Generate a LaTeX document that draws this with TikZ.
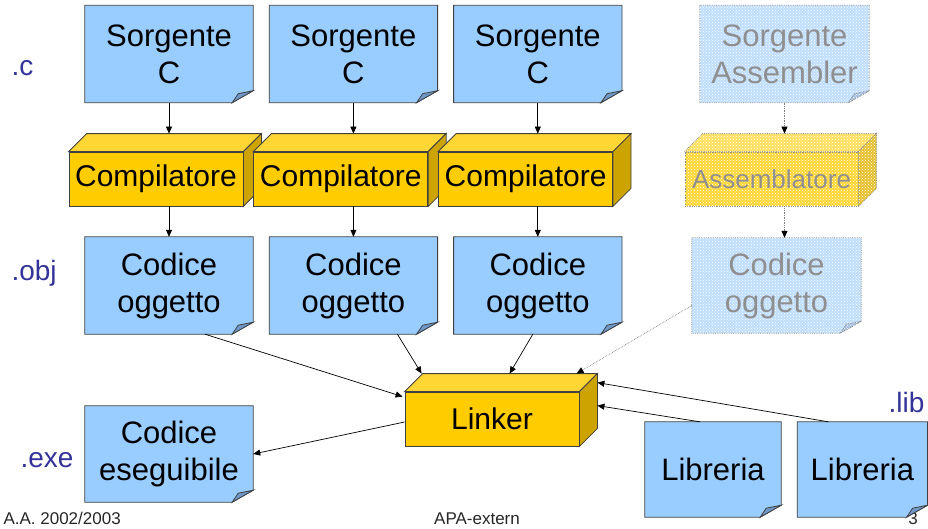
\documentclass[tikz,border=0pt]{standalone}
\usepackage{fontspec}
\setmainfont{Liberation Sans}
\usetikzlibrary{arrows.meta,positioning,backgrounds,patterns}
\definecolor{notefill}{HTML}{99CCFF}
\definecolor{foldfill}{HTML}{6F98C8}
\definecolor{notefaint}{HTML}{BFDEFF}
\definecolor{foldfaint}{HTML}{A3C0E2}
\definecolor{edgeline}{HTML}{404040}
\definecolor{cubefront}{HTML}{FFCC00}
\definecolor{cubetop}{HTML}{FFD633}
\definecolor{cubeside}{HTML}{CCA300}
\definecolor{cubefaint}{HTML}{FFD633}
\definecolor{cubetopfaint}{HTML}{FFDF5C}
\definecolor{cubesidefaint}{HTML}{E6C02E}
\definecolor{textfaint}{HTML}{8F8F8F}
\definecolor{extcolor}{HTML}{333399}

% sheet with a turned-down corner behind a note node
\newcommand{\dogear}[4]{%
  \path[draw=edgeline, fill=#2, line width=0.8pt, #4] (#1.north west) -- (#1.north east)
    -- ([yshift=12pt]#1.south east) -- ([xshift=-21pt]#1.south east) -- (#1.south west) -- cycle;
  \path[draw=edgeline, fill=#3, line width=0.8pt, #4] ([yshift=12pt]#1.south east)
    -- ([shift={(-15pt,9pt)}]#1.south east) -- ([xshift=-21pt]#1.south east) -- cycle;}
% top and right faces of a box node
\newcommand{\cubefaces}[4]{%
  \path[draw=edgeline, fill=#2, line width=0.8pt, #4] (#1.north west) -- ++(18pt,18pt)
    -- ([shift={(18pt,18pt)}]#1.north east) -- (#1.north east) -- cycle;
  \path[draw=edgeline, fill=#3, line width=0.8pt, #4] (#1.north east) -- ([shift={(18pt,18pt)}]#1.north east)
    -- ([shift={(18pt,18pt)}]#1.south east) -- (#1.south east) -- cycle;}

\begin{document}
\begin{tikzpicture}[x=1pt, y=-1pt,
    note/.style={inner sep=0pt, minimum width=168pt, minimum height=97pt, align=center, font=\fontsize{31}{37}\selectfont},
    cube/.style={draw=edgeline, fill=cubefront, line width=0.8pt, inner sep=0pt, minimum width=174pt, minimum height=54pt, font=\fontsize{30}{36}\selectfont},
    faint/.style={draw=black!45, densely dotted, postaction={pattern=crosshatch dots, pattern color=white}},
    ext/.style={anchor=base west, text=extcolor, font=\fontsize{28}{32}\selectfont},
    foot/.style={anchor=base, text=black!85, font=\fontsize{17}{20}\selectfont},
    arr/.style={draw=black, line width=0.7pt, -{Triangle[length=7pt, width=6pt, black]}},
    arrfaint/.style={arr, draw=black!50, densely dotted}]
    \useasboundingbox (0,0) rectangle (928,528);

    \node[note] (src1) at (169,54) {Sorgente\\C};
    \node[note, right=16pt of src1] (src2) {Sorgente\\C};
    \node[note, right=16pt of src2] (src3) {Sorgente\\C};
    \node[note, minimum width=169pt, text=textfaint] (srcasm) at (784.5,54) {Sorgente\\Assembler};

    \node[cube] (comp1) at (156,179) {Compilatore};
    \cubefaces{comp1}{cubetop}{cubeside}{}
    \node[cube, right=10pt of comp1] (comp2) {Compilatore};
    \cubefaces{comp2}{cubetop}{cubeside}{}
    \node[cube, right=10pt of comp2] (comp3) {Compilatore};
    \cubefaces{comp3}{cubetop}{cubeside}{}
    \node[cube, faint, fill=cubefaint, minimum width=173pt, text=textfaint, font=\fontsize{26}{30}\selectfont] (asmb) at (771.5,179) {Assemblatore};
    \cubefaces{asmb}{cubetopfaint}{cubesidefaint}{faint}

    \node[note] (obj1) at (169,285.5) {Codice\\oggetto};
    \node[note, right=16pt of obj1] (obj2) {Codice\\oggetto};
    \node[note, right=16pt of obj2] (obj3) {Codice\\oggetto};
    \node[note, minimum width=169pt, minimum height=95pt, text=textfaint] (objasm) at (776.5,285.5) {Codice\\oggetto};

    \node[cube] (linker) at (492,419) {Linker};
    \cubefaces{linker}{cubetop}{cubeside}{}
    \node[note, minimum height=96pt] (exe) at (169,454) {Codice\\eseguibile};
    \node[note, minimum width=136pt, minimum height=95pt] (lib1) at (713,469.5) {Libreria};
    \node[note, minimum width=130pt, minimum height=95pt, right=16pt of lib1] (lib2) {Libreria};

    \node[ext] (extc) at (8,75) {.c};
    \node[ext] (extobj) at (8,280) {.obj};
    \node[ext] (extexe) at (17,467) {.exe};
    \node[ext] (extlib) at (885,412) {.lib};

    \node[foot, anchor=base west] (year) at (0,524) {A.A. 2002/2003};
    \node[foot] (title) at (477,524) {APA-extern};

    \begin{scope}[on background layer]
        \node[foot] (page) at (913,524) {3};
        \foreach \n in {src1,src2,src3,obj1,obj2,obj3,exe,lib1,lib2}
            {\dogear{\n}{notefill}{foldfill}{}}
        \foreach \n in {srcasm,objasm}
            {\dogear{\n}{notefaint}{foldfaint}{faint}}
    \end{scope}

    \foreach \i in {1,2,3} {
        \draw[arr] (src\i) -- ([yshift=18pt]src\i |- comp\i.north);
        \draw[arr] (comp\i.south -| obj\i) -- (obj\i);
    }
    \draw[arrfaint] (srcasm) -- ([yshift=18pt]srcasm |- asmb.north);
    \draw[arrfaint] (asmb.south -| srcasm) -- (srcasm |- objasm.north);

    \draw[arr] ([xshift=36pt]obj1.south) -- ([shift={(-2pt,-5pt)}]linker.north west);
    \draw[arr] ([xshift=44pt]obj2.south) -- ([shift={(17pt,18pt)}]linker.north west);
    \draw[arr] ([xshift=-5pt]obj3.south) -- ([shift={(105pt,18pt)}]linker.north west);
    \draw[arrfaint] ([yshift=-20pt]objasm.west) -- ([shift={(172pt,18pt)}]linker.north west);
    \draw[arr] ([xshift=31pt]lib2.north west) -- ([shift={(18pt,9pt)}]linker.north east);
    \draw[arr] ([xshift=55pt]lib1.north west) -- ([shift={(18pt,-14pt)}]linker.north east);
    \draw[arr] ([yshift=-3pt]linker.west) -- (exe.east);
\end{tikzpicture}
\end{document}
